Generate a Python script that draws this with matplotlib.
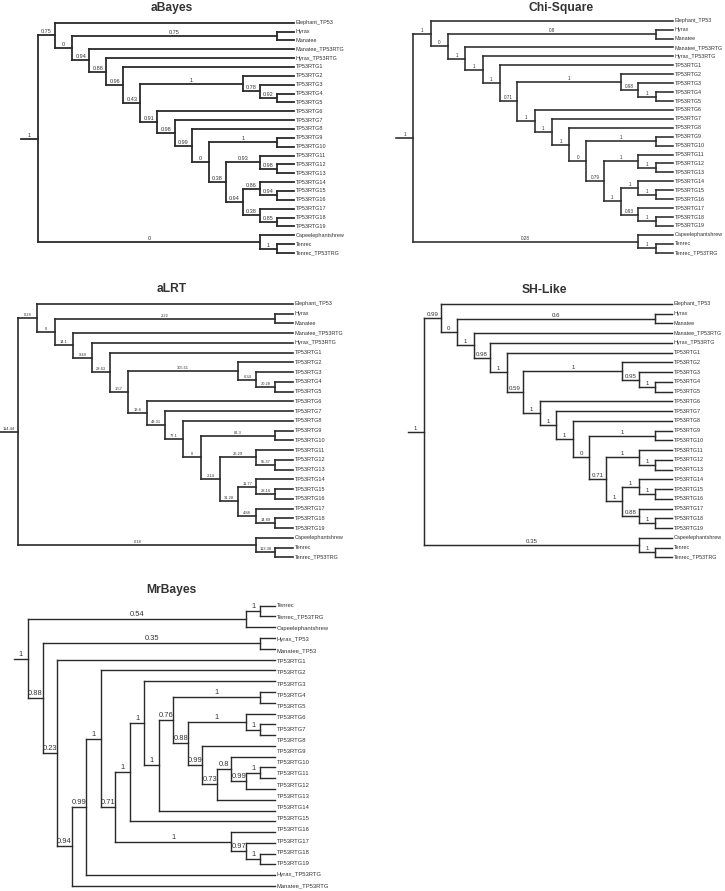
import matplotlib
matplotlib.use("Agg")
import matplotlib.pyplot as plt

plt.rcParams['font.family'] = ['Liberation Sans', 'DejaVu Sans']

W, H = 725, 891

# ML topology shared by the four branch-support methods
TOPOLOGY = (
    "((Elephant_TP53,((Hyrax,Manatee){hm},(Manatee_TP53RTG,(Hyrax_TP53RTG,(TP53RTG1,"
    "((TP53RTG2,(TP53RTG3,(TP53RTG4,TP53RTG5){c4}){c3}){c2},"
    "(TP53RTG6,(TP53RTG7,(TP53RTG8,((TP53RTG9,TP53RTG10){c9},"
    "((TP53RTG11,(TP53RTG12,TP53RTG13){c12}){c11},"
    "((TP53RTG14,(TP53RTG15,TP53RTG16){c15}){c14},(TP53RTG17,(TP53RTG18,TP53RTG19){c18}){c17}){r14on}"
    "){r11on}){r9on}){r8}){r7}){r6}){r2on}){r1}){hrtg}){mrtg}){pae}){afro},"
    "(Capeelephantshrew,(Tenrec,Tenrec_TP53TRG){tenrec}){shrew}){root};"
)
NODE_KEYS = ["root", "afro", "pae", "hm", "mrtg", "hrtg", "r1", "r2on", "c2", "c3", "c4",
             "r6", "r7", "r8", "r9on", "c9", "r11on", "c11", "c12", "r14on", "c14", "c15",
             "c17", "c18", "shrew", "tenrec"]

ABAYES = ["1", "0.75", "0", "0.75", "0.94", "0.88", "0.96", "0.43", "1", "0.78", "0.92",
          "0.91", "0.98", "0.99", "0", "1", "0.38", "0.93", "0.98", "0.94", "0.86", "0.94",
          "0.38", "0.85", "0", "1"]
CHI_SQUARE = ["1", "1", "0", "0.8", "1", "1", "1", "0.71", "1", "0.98", "1",
              "1", "1", "1", "0", "1", "0.79", "1", "1", "1", "1", "1",
              "0.93", "1", "0.28", "1"]
ALRT = ["114.44", "0.28", "0", "2.22", "14.1", "9.49", "28.63", "1.57", "305.51", "6.34", "20.28",
        "13.6", "43.31", "77.1", "0", "81.3", "2.14", "26.29", "55.37", "31.28", "11.77", "28.16",
        "4.88", "14.89", "0.18", "113.38"]
SH_LIKE = ["1", "0.99", "0", "0.6", "1", "0.98", "1", "0.59", "1", "0.95", "1",
           "1", "1", "1", "0", "1", "0.71", "1", "1", "1", "1", "1",
           "0.88", "1", "0.35", "1"]

# MrBayes consensus: tips drawn as '*', names listed separately
MRBAYES_TREE = (
    "(((*,*)1,*)0.54,((*,*)0.35,(*,(((*,(((*,(((*,*)1,((*,(*,*)1)1,"
    "(*,((*,((*,*)1,*)0.99)0.8,*)0.73)0.99)0.88)0.76,*)1)1,*)1,"
    "(*,(*,(*,*)1)0.97)1)0.71)1,*)0.99,*)0.94)0.23)0.88)1;"
)
MRBAYES_TIPS = ["Tenrec", "Tenrec_TP53TRG", "Capeelephantshrew", "Hyrax_TP53", "Manatee_TP53",
                "TP53RTG1", "TP53RTG2", "TP53RTG3", "TP53RTG4", "TP53RTG5", "TP53RTG6",
                "TP53RTG7", "TP53RTG8", "TP53RTG9", "TP53RTG10", "TP53RTG11", "TP53RTG12",
                "TP53RTG13", "TP53RTG14", "TP53RTG15", "TP53RTG16", "TP53RTG17", "TP53RTG18",
                "TP53RTG19", "Hyrax_TP53RTG", "Manatee_TP53RTG"]


def parse_newick(s):
    s = s.strip().rstrip(';')
    pos = 0

    def node():
        nonlocal pos
        children = []
        if s[pos] == '(':
            pos += 1
            children.append(node())
            while s[pos] == ',':
                pos += 1
                children.append(node())
            pos += 1
        start = pos
        while pos < len(s) and s[pos] not in ',)':
            pos += 1
        return {'children': children, 'name': s[start:pos]}

    return node()


def layout(root):
    tips = []

    def walk(n):
        if not n['children']:
            n['depth'] = 0
            n['y'] = len(tips)
            tips.append(n)
        else:
            for c in n['children']:
                walk(c)
            n['depth'] = 1 + max(c['depth'] for c in n['children'])
            n['y'] = sum(c['y'] for c in n['children']) / len(n['children'])

    walk(root)
    D = root['depth']

    def setx(n):
        n['x'] = D - n['depth'] + 1
        for c in n['children']:
            setx(c)

    setx(root)
    return tips, D


def draw_tree(fig, newick, box, title, title_xy, lw, tip_fs, sup_fs, tip_names=None):
    root = parse_newick(newick)
    tips, D = layout(root)
    stub_px, leaf_px, top_px, bottom_px = box
    n = len(tips)

    ax = fig.add_axes([0, 0, 1, 1])
    ax.set_axis_off()
    sx = (D + 1) / (leaf_px - stub_px)
    sy = (n - 1) / (bottom_px - top_px)
    ax.set_xlim(-stub_px * sx, (W - stub_px) * sx)
    ax.set_ylim((H - top_px) * sy, -top_px * sy)

    col = '#2a2a2a'
    sup_kw = dict(textcoords='offset points', xytext=(0, 0.7), ha='center', va='bottom',
                  fontsize=sup_fs, color='#333333')

    def draw(nd):
        if not nd['children']:
            return
        ys = [c['y'] for c in nd['children']]
        ax.plot([nd['x'], nd['x']], [min(ys), max(ys)], color=col, lw=lw, solid_capstyle='projecting')
        for c in nd['children']:
            ax.plot([nd['x'], c['x']], [c['y'], c['y']], color=col, lw=lw, solid_capstyle='projecting')
            if c['children'] and c['name']:
                ax.annotate(c['name'], xy=((nd['x'] + c['x']) / 2, c['y']), **sup_kw)
            draw(c)

    ax.plot([0, root['x']], [root['y'], root['y']], color=col, lw=lw, solid_capstyle='projecting')
    ax.annotate(root['name'], xy=(root['x'] / 2, root['y']), **sup_kw)
    draw(root)

    if tip_names is None:
        names = [t['name'] for t in tips]
        ypos = [t['y'] for t in tips]
    else:
        names = tip_names
        step = (n - 1) / (len(tip_names) - 1)
        ypos = [i * step for i in range(len(tip_names))]
    for name, y in zip(names, ypos):
        ax.annotate(name, xy=(D + 1, y), xytext=(1.4, 0), textcoords='offset points',
                    ha='left', va='center', fontsize=tip_fs, color='#333333')

    fig.text(title_xy[0] / W, 1 - title_xy[1] / H, title, ha='center', va='center',
             fontsize=8.7, fontweight='bold', color='#333333')


fig = plt.figure(figsize=(W / 100, H / 100), dpi=100)

panels = [
    (ABAYES, "aBayes", (21, 294, 22.7, 253), (172, 7.5), 1.3, 3.95, 4.0),
    (CHI_SQUARE, "Chi-Square", (396, 673, 20.7, 252.7), (561, 7.5), 1.15, 3.85, 3.3),
    (ALRT, "aLRT", (0, 293, 304, 557.3), (172, 289), 1.2, 3.95, 2.9),
    (SH_LIKE, "SH-Like", (407.5, 672, 304, 557.3), (544, 290), 1.05, 3.85, 4.4),
]
for values, title, box, txy, lw, tfs, sfs in panels:
    newick = TOPOLOGY.format(**dict(zip(NODE_KEYS, values)))
    draw_tree(fig, newick, box, title, txy, lw, tfs, sfs)

draw_tree(fig, MRBAYES_TREE, (13.8, 275, 605.7, 886), "MrBayes", (171, 590.5), 1.0, 4.2, 5.4,
          tip_names=MRBAYES_TIPS)

fig.savefig("out.png", dpi=100, facecolor='white')
